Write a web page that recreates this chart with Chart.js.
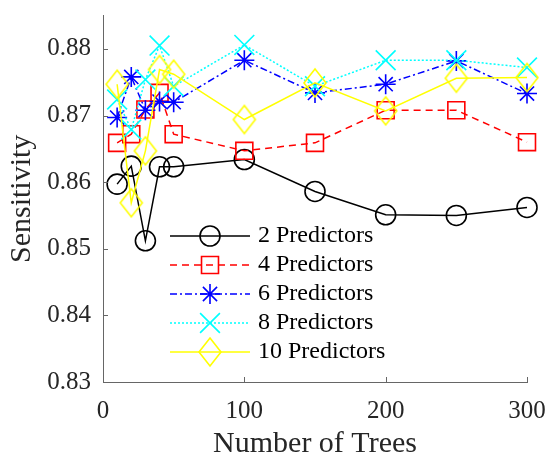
<!DOCTYPE html>
<html>
<head>
<meta charset="utf-8">
<script src="https://cdn.jsdelivr.net/npm/chart.js@4"></script>
<style>
  html, body { margin: 0; padding: 0; background: #fff; }
</style>
</head>
<body>
<canvas id="grafico" width="549" height="459"></canvas>
<script>
// datos
const arboles = [10, 20, 30, 40, 50, 100, 150, 200, 250, 300]
const pred2 = [0.8597, 0.8624, 0.8512, 0.8623, 0.8623, 0.8634, 0.8586, 0.8551, 0.8550, 0.8562]
const pred4 = [0.8659, 0.8672, 0.8709, 0.8734, 0.8672, 0.8647, 0.8659, 0.8708, 0.8708, 0.8660]
const pred6 = [0.8697, 0.8758, 0.8708, 0.8721, 0.8720, 0.8783, 0.8734, 0.8747, 0.8782, 0.8733]
const pred8 = [0.8724, 0.8679, 0.8754, 0.8805, 0.8744, 0.8806, 0.8744, 0.8783, 0.8783, 0.8772]
const pred10 = [0.8747, 0.8569, 0.8647, 0.8769, 0.8762, 0.8694, 0.8749, 0.8707, 0.8756, 0.8757]
const etiquetasSerie = ['2 Predictors', '4 Predictors', '6 Predictors', '8 Predictors', '10 Predictors']
const ticksX = [0, 100, 200, 300]
const ticksY = [0.83, 0.84, 0.85, 0.86, 0.87, 0.88]

const FUENTE = '"Liberation Serif", "Times New Roman", serif'

// rombo alto como en matlab
const rombo = document.createElement('canvas')
rombo.width = 26
rombo.height = 32
const rc = rombo.getContext('2d')
rc.strokeStyle = '#ffff00'
rc.lineWidth = 1.6
rc.beginPath()
rc.moveTo(13, 2); rc.lineTo(24, 16); rc.lineTo(13, 30); rc.lineTo(2, 16); rc.closePath()
rc.stroke()

const puntos = arr => arr.map((v, i) => ({ x: arboles[i], y: v }))

function serie(label, valores, color, dash, estilo, radio, orden) {
  return {
    label: label,
    data: puntos(valores),
    borderColor: color,
    backgroundColor: 'rgba(0,0,0,0)',
    borderWidth: 1.5,
    borderDash: dash,
    pointStyle: estilo,
    pointRadius: radio,
    pointBorderColor: color,
    pointBackgroundColor: 'rgba(0,0,0,0)',
    pointBorderWidth: 1.6,
    tension: 0,
    clip: false,
    order: orden
  }
}

const datasets = [
  serie(etiquetasSerie[0], pred2, '#000000', [], 'circle', 10, 4),
  serie(etiquetasSerie[1], pred4, '#ff0000', [7, 5], 'rect', 12, 3),
  serie(etiquetasSerie[2], pred6, '#0000ff', [7, 3, 2, 3], 'star', 10, 2),
  serie(etiquetasSerie[3], pred8, '#00ffff', [2, 2], 'crossRot', 14, 1),
  serie(etiquetasSerie[4], pred10, '#ffff00', [], rombo, 13, 0)
]

// ticks hacia adentro + leyenda estilo matlab
const extras = {
  id: 'extras',
  afterDraw(chart) {
    const ctx = chart.ctx
    const a = chart.chartArea
    const sx = chart.scales.x
    const sy = chart.scales.y
    ctx.save()
    ctx.strokeStyle = '#666666'
    ctx.lineWidth = 1
    ticksY.forEach(v => {
      const y = Math.round(sy.getPixelForValue(v)) + 0.5
      ctx.beginPath(); ctx.moveTo(a.left, y); ctx.lineTo(a.left + 5, y); ctx.stroke()
    })
    ticksX.forEach(v => {
      const x = Math.round(sx.getPixelForValue(v)) + 0.5
      ctx.beginPath(); ctx.moveTo(x, a.bottom); ctx.lineTo(x, a.bottom - 5); ctx.stroke()
    })

    // leyenda
    const x0 = 170, x1 = 250, xm = 210, xt = 258
    chart.data.datasets.forEach((ds, i) => {
      const y = 236 + i * 29
      ctx.strokeStyle = ds.borderColor
      ctx.lineWidth = ds.borderWidth
      ctx.setLineDash(ds.borderDash)
      ctx.beginPath(); ctx.moveTo(x0, y); ctx.lineTo(x1, y); ctx.stroke()
      ctx.setLineDash([])
      ctx.fillStyle = 'rgba(0,0,0,0)'
      ctx.lineWidth = ds.pointBorderWidth
      Chart.helpers.drawPoint(ctx, {
        pointStyle: ds.pointStyle,
        radius: ds.pointRadius,
        rotation: 0,
        borderWidth: ds.pointBorderWidth
      }, xm, y)
      ctx.fillStyle = '#000000'
      ctx.font = '24px ' + FUENTE
      ctx.textAlign = 'left'
      ctx.textBaseline = 'middle'
      ctx.fillText(ds.label, xt, y)
    })
    ctx.restore()
  }
}

const sinRelleno = s => { s.paddingLeft = 0; s.paddingRight = 0; s.paddingTop = 0; s.paddingBottom = 0 }

const ctxG = document.getElementById('grafico').getContext('2d')
const chart = new Chart(ctxG, {
  type: 'line',
  data: { datasets: datasets },
  plugins: [extras],
  options: {
    responsive: false,
    animation: false,
    layout: { padding: { left: 0, top: 13, right: 22, bottom: 0 } },
    plugins: { legend: { display: false }, tooltip: { enabled: false } },
    scales: {
      x: {
        type: 'linear',
        min: 0,
        max: 300,
        afterBuildTicks: s => { s.ticks = ticksX.map(v => ({ value: v })) },
        afterFit: s => { s.height = 77; sinRelleno(s) },
        grid: { display: false, drawTicks: false },
        border: { display: true, color: '#666666', width: 1 },
        ticks: { padding: 14, color: '#262626', font: { family: FUENTE, size: 25 }, maxRotation: 0 },
        title: { display: true, text: 'Number of Trees', color: '#262626', font: { family: FUENTE, size: 30, lineHeight: 1 }, padding: { top: 0, bottom: 0 } }
      },
      y: {
        min: 0.83,
        max: 0.885,
        afterBuildTicks: s => { s.ticks = ticksY.map(v => ({ value: v })) },
        afterFit: s => { s.width = 103; sinRelleno(s) },
        grid: { display: false, drawTicks: false },
        border: { display: true, color: '#666666', width: 1 },
        ticks: { padding: 12, color: '#262626', font: { family: FUENTE, size: 25 }, callback: v => v.toFixed(2) },
        title: { display: true, text: 'Sensitivity', color: '#262626', font: { family: FUENTE, size: 30, lineHeight: 1 }, padding: { top: 7, bottom: 0 } }
      }
    }
  }
})
</script>
</body>
</html>
